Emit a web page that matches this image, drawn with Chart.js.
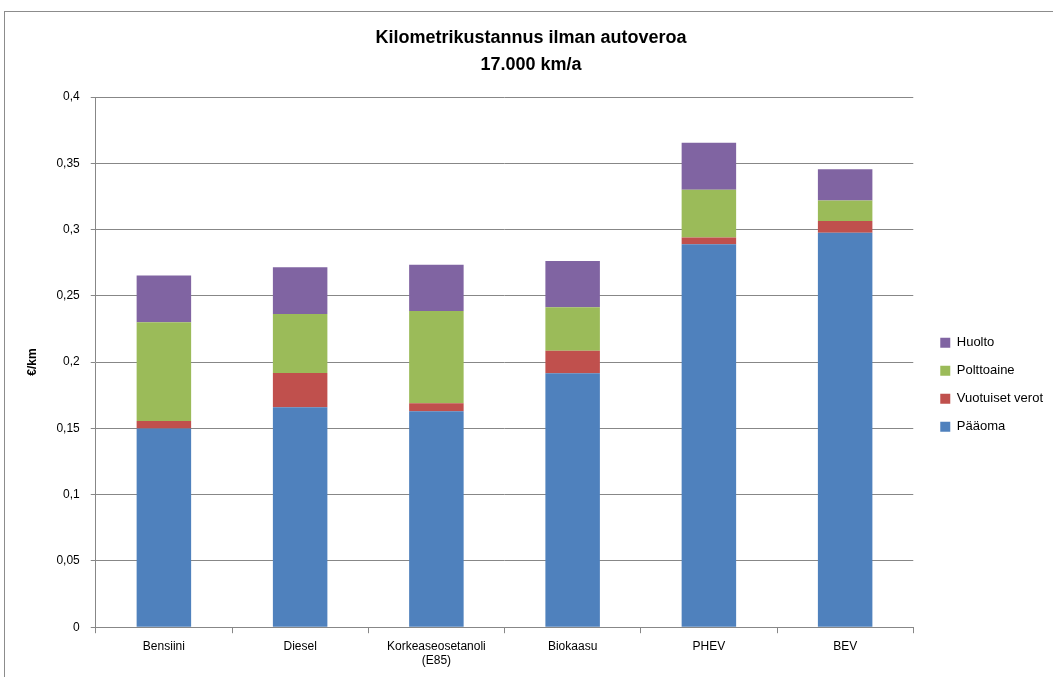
<!DOCTYPE html>
<html>
<head>
<meta charset="utf-8">
<script src="https://cdn.jsdelivr.net/npm/chart.js@4"></script>
<style>
  html, body { margin: 0; padding: 0; background: #fff; }
  #wrap { position: relative; width: 1053px; height: 677px; }
  #frame { position: absolute; left: 4px; top: 11px; width: 1060px; height: 700px; border-left: 1px solid #8c8c8c; border-top: 1px solid #8c8c8c; }
  canvas { position: absolute; left: 0; top: 0; }
</style>
</head>
<body>
<div id="wrap">
  <div id="frame"></div>
  <canvas id="chart" width="1053" height="677"></canvas>
</div>
<script>
const categories = ["Bensiini", "Diesel", ["Korkeaseosetanoli", "(E85)"], "Biokaasu", "PHEV", "BEV"];
const paaoma = [0.150, 0.166, 0.163, 0.1915, 0.289, 0.2975];
const verot = [0.0055, 0.0257, 0.006, 0.017, 0.005, 0.009];
const polttoaine = [0.0745, 0.0445, 0.0695, 0.0328, 0.036, 0.0155];
const huolto = [0.0354, 0.0353, 0.035, 0.035, 0.0355, 0.0235];

const font = "'Liberation Sans', Arial, sans-serif";
Chart.defaults.font.family = font;
Chart.defaults.color = "#000";

// push the legend a bit to the right, leaving a gap after the plot
const shiftLegend = {
  id: "shiftLegend",
  afterLayout(chart) {
    chart.legend.left += 12;
    chart.legend.right += 12;
  },
};

const ctx = document.getElementById("chart").getContext("2d");
new Chart(ctx, {
  type: "bar",
  data: {
    labels: categories,
    datasets: [
      { label: "Pääoma", data: paaoma, backgroundColor: "#4f81bd" },
      { label: "Vuotuiset verot", data: verot, backgroundColor: "#c0504d" },
      { label: "Polttoaine", data: polttoaine, backgroundColor: "#9bbb59" },
      { label: "Huolto", data: huolto, backgroundColor: "#8064a2" },
    ],
  },
  plugins: [shiftLegend],
  options: {
    responsive: false,
    animation: false,
    categoryPercentage: 1,
    barPercentage: 0.4,
    layout: { padding: { left: 21, right: 12, top: 25, bottom: 3 } },
    plugins: {
      title: {
        display: true,
        text: ["Kilometrikustannus ilman autoveroa", "17.000 km/a"],
        font: { size: 18, weight: "bold", lineHeight: 1.5 },
        padding: { top: 0, bottom: 18 },
      },
      legend: {
        position: "right",
        reverse: true,
        title: { display: true, text: " ", font: { size: 12, lineHeight: 1.2 }, padding: 28 },
        labels: {
          boxWidth: 10,
          boxHeight: 10,
          padding: 15,
          font: { size: 13 },
        },
      },
      tooltip: { enabled: false },
    },
    scales: {
      x: {
        stacked: true,
        grid: { display: true, drawOnChartArea: false, offset: true, color: "#878787", tickLength: 6 },
        border: { color: "#878787" },
        ticks: { font: { size: 12 }, maxRotation: 0, padding: 6 },
      },
      y: {
        stacked: true,
        min: 0,
        max: 0.4,
        grid: { color: "#878787", tickLength: 5 },
        border: { color: "#878787" },
        ticks: {
          stepSize: 0.05,
          font: { size: 12 },
          padding: 11,
          callback: (v) => String(Math.round(v * 100) / 100).replace(".", ","),
        },
        title: { display: true, text: "€/km", font: { size: 12, weight: "bold" }, padding: { bottom: 6 } },
      },
    },
  },
});
</script>
</body>
</html>
